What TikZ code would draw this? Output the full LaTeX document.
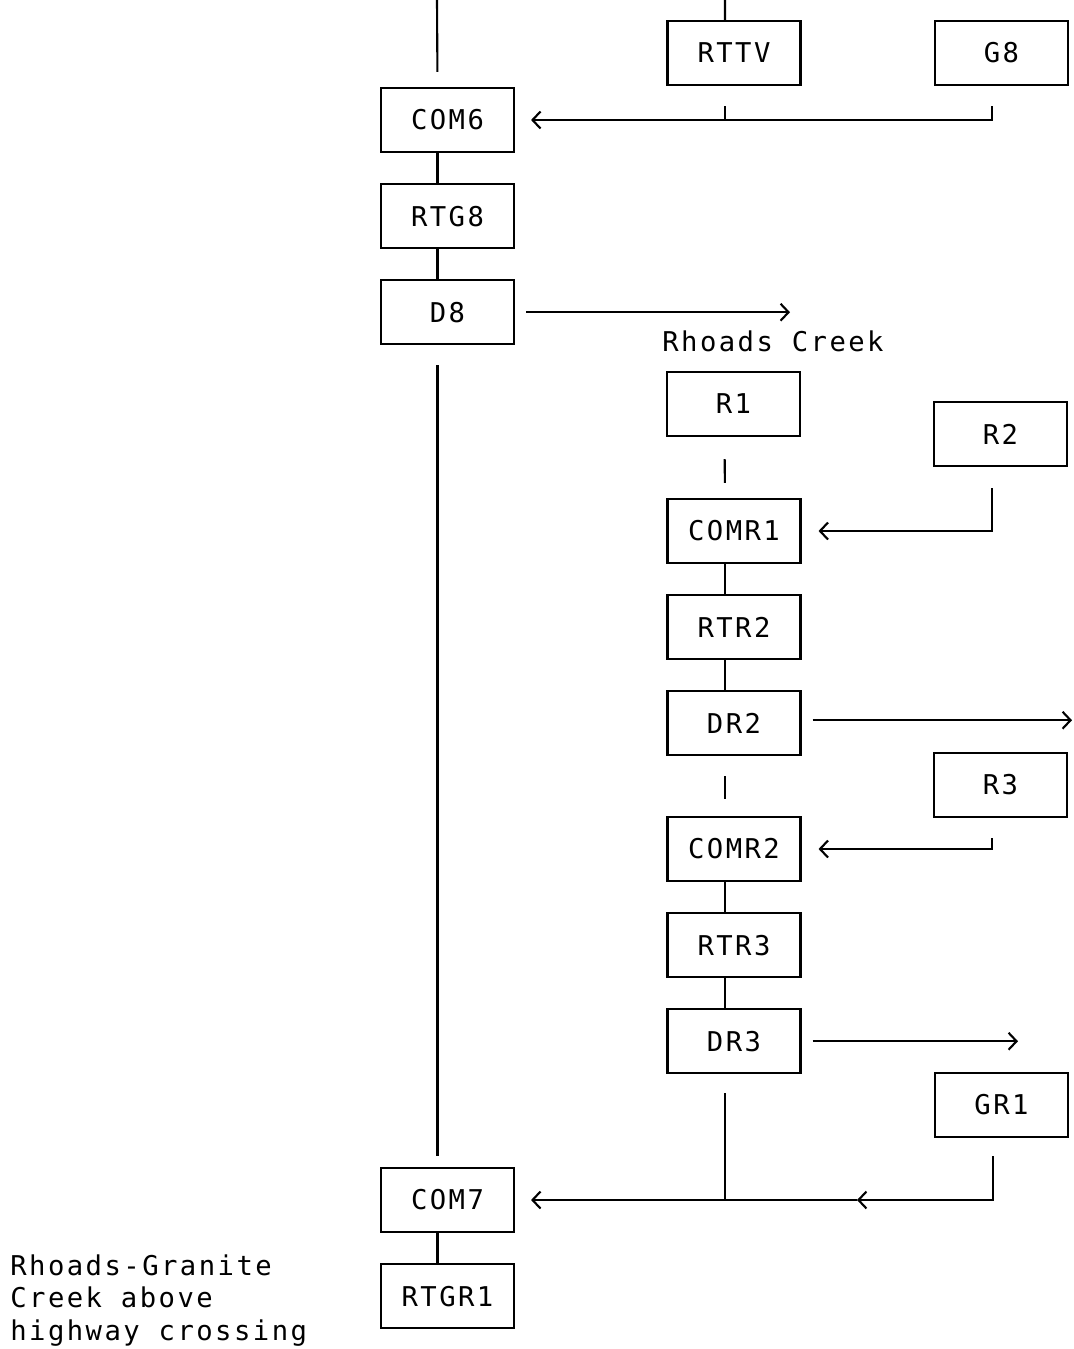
\documentclass[tikz,border=0pt]{standalone}
\usepackage{fontspec}
\setmonofont[LetterSpace=9]{DejaVu Sans Mono}
\usetikzlibrary{positioning,arrows.meta}

\begin{document}
\begin{tikzpicture}[boxnode/.style={draw,line width=1.2pt,minimum width=26.6mm,minimum height=12.8mm,inner sep=0pt,font=\ttfamily\fontsize{15.5}{18.7}\selectfont},
		plotlabel/.style={inner sep=0pt,font=\ttfamily\fontsize{15.5}{18.7}\selectfont},
		link/.style={line width=1.2pt},
		flow/.style={line width=1.2pt,-{Straight Barb[length=1.6mm,width=3.4mm]}}]
			\useasboundingbox (0,0) rectangle (21.48,-26.98);

			% main stem
			\node[boxnode]									(com6)	at (8.95,-2.40)		{COM6};
			\node[boxnode,node distance=6.0mm,below=of com6]	(rtg8)	{RTG8};
			\node[boxnode,node distance=6.0mm,below=of rtg8]	(d8)	{D8};
			\node[boxnode]									(com7)	at (8.95,-24.00)	{COM7};
			\node[boxnode,node distance=6.0mm,below=of com7]	(rtgr1)	{RTGR1};

			\node[boxnode]									(rttv)	at (14.68,-1.06)	{RTTV};
			\node[boxnode]									(g8)	at (20.03,-1.06)	{G8};

			% Rhoads Creek
			\node[plotlabel]								(rhoads)	at (15.46,-6.82)	{Rhoads Creek};
			\node[boxnode]									(r1)	at (14.67,-8.08)	{R1};
			\node[boxnode]									(r2)	at (20.01,-8.68)	{R2};
			\node[boxnode]									(comr1)	at (14.68,-10.62)	{COMR1};
			\node[boxnode,node distance=6.0mm,below=of comr1]	(rtr2)	{RTR2};
			\node[boxnode,node distance=6.0mm,below=of rtr2]	(dr2)	{DR2};
			\node[boxnode]									(r3)	at (20.01,-15.70)	{R3};
			\node[boxnode]									(comr2)	at (14.68,-16.98)	{COMR2};
			\node[boxnode,node distance=6.0mm,below=of comr2]	(rtr3)	{RTR3};
			\node[boxnode,node distance=6.0mm,below=of rtr3]	(dr3)	{DR3};
			\node[boxnode]									(gr1)	at (20.03,-22.10)	{GR1};

			\node[plotlabel,anchor=north west,align=left]	(site)	at (0.20,-25.08)	{Rhoads-Granite\\Creek above\\highway crossing};

			\coordinate (stemtop)	at (8.74,0);
			\coordinate (rttvtop)	at (14.50,0);
			\coordinate (d8out)		at (15.80,-6.18);
			\coordinate (dr2out)	at (21.44,-14.40);
			\coordinate (dr3out)	at (20.36,-20.82);
			\coordinate (gr1join)	at (17.14,-24.00);

			\draw[link,shorten >=3mm] (stemtop) -- ([xshift=-2mm]com6.north);
			\draw[link] ([xshift=-2mm]com6.south) -- ([xshift=-2mm]rtg8.north);
			\draw[link] ([xshift=-2mm]rtg8.south) -- ([xshift=-2mm]d8.north);
			\draw[link,shorten <=4mm,shorten >=2.2mm] ([xshift=-2mm]d8.south) -- ([xshift=-2mm]com7.north);
			\draw[link] ([xshift=-2mm]com7.south) -- ([xshift=-2mm]rtgr1.north);

			\draw[link] (rttvtop) -- ([xshift=-1.8mm]rttv.north);
			\draw[link,shorten <=4mm] ([xshift=-1.8mm]rttv.south) -- ([xshift=-1.8mm]rttv.south |- com6.east);
			\draw[flow,shorten <=4mm,shorten >=3.2mm] ([xshift=-1.9mm]g8.south) |- (com6.east);
			\draw[flow,shorten <=2.2mm] (d8.east) -- (d8.east -| d8out);

			\draw[link,shorten <=4.4mm,shorten >=3mm] ([xshift=-1.8mm]r1.south) -- ([xshift=-1.8mm]comr1.north);
			\draw[flow,shorten <=4.2mm,shorten >=3.4mm] ([xshift=-1.7mm]r2.south) |- (comr1.east);
			\draw[link] ([xshift=-1.8mm]comr1.south) -- ([xshift=-1.8mm]rtr2.north);
			\draw[link] ([xshift=-1.8mm]rtr2.south) -- ([xshift=-1.8mm]dr2.north);
			\draw[flow,shorten <=2.2mm] ([yshift=0.6mm]dr2.east) -- ([yshift=0.6mm]dr2.east -| dr2out);
			\draw[link,shorten <=4mm,shorten >=3.4mm] ([xshift=-1.8mm]dr2.south) -- ([xshift=-1.8mm]comr2.north);
			\draw[flow,shorten <=4mm,shorten >=3.4mm] ([xshift=-1.7mm]r3.south) |- (comr2.east);
			\draw[link] ([xshift=-1.8mm]comr2.south) -- ([xshift=-1.8mm]rtr3.north);
			\draw[link] ([xshift=-1.8mm]rtr3.south) -- ([xshift=-1.8mm]dr3.north);
			\draw[flow,shorten <=2.2mm] (dr3.east) -- (dr3.east -| dr3out);
			\draw[link,shorten <=3.8mm] ([xshift=-1.8mm]dr3.south) -- ([xshift=-1.8mm]dr3.south |- com7.east);
			\draw[flow,shorten <=3.6mm] ([xshift=-1.7mm]gr1.south) |- (gr1join);
			\draw[flow,shorten >=3.2mm] (gr1join) -- (com7.east);
		\end{tikzpicture}
\end{document}
